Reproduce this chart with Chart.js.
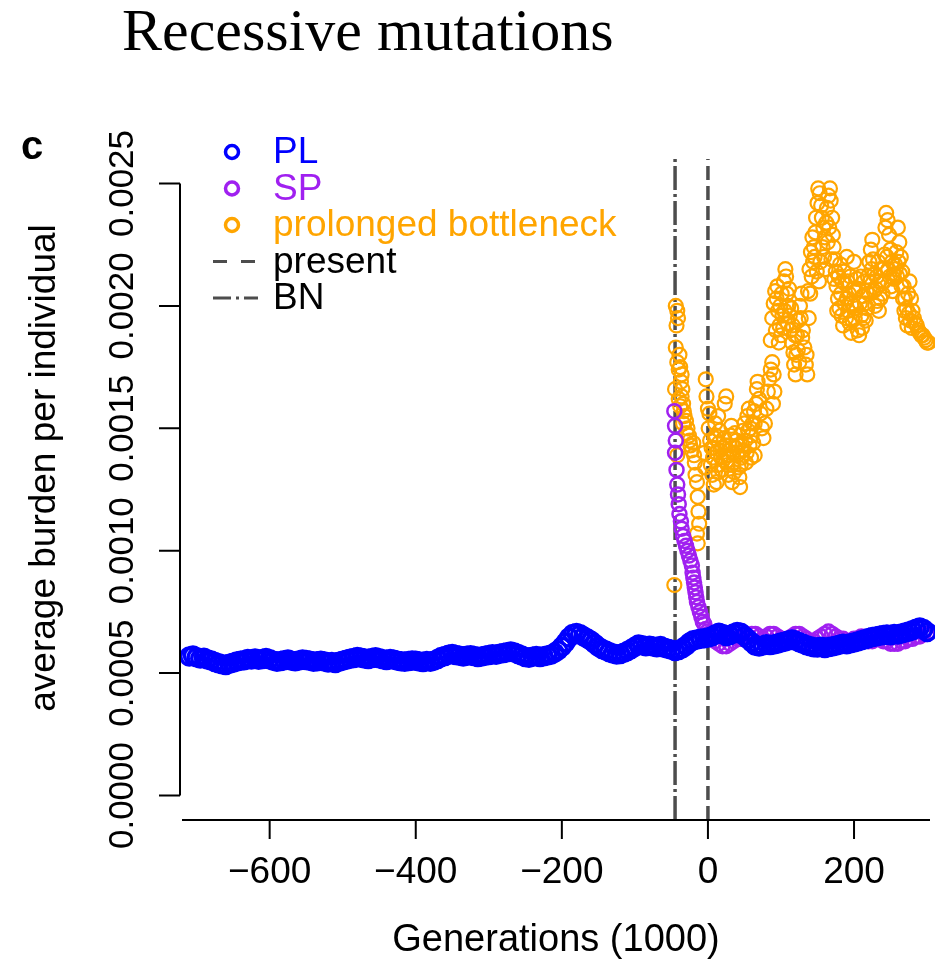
<!DOCTYPE html>
<html>
<head>
<meta charset="utf-8">
<title>Recessive mutations</title>
<script src="https://cdn.jsdelivr.net/npm/chart.js@4.4.1/dist/chart.umd.min.js"></script>
<style>
  html, body { margin: 0; padding: 0; background: #fff; }
  canvas { display: block; }
</style>
</head>
<body>
<canvas id="myChart" width="935" height="963"></canvas>
<script>
// values: generations (1000), average burden per individual

const xTicks = [-600, -400, -200, 0, 200]
const yTicks = [0, 0.0005, 0.0010, 0.0015, 0.0020, 0.0025]

const presentGen = 0
const bnGen = -45

// PL: one value every 5 (x1000) generations, from -710 to 300
const plStart = -710, plStep = 5
const plBurden = [
    0.000568, 0.000572, 0.000565, 0.000560, 0.000563, 0.000556, 0.000552, 0.000545, 0.000540, 0.000536,
    0.000533, 0.000538, 0.000542, 0.000547, 0.000550, 0.000553, 0.000558, 0.000556, 0.000560, 0.000555,
    0.000558, 0.000562, 0.000557, 0.000550, 0.000546, 0.000549, 0.000553, 0.000556, 0.000551, 0.000548,
    0.000552, 0.000556, 0.000554, 0.000550, 0.000546, 0.000548, 0.000550, 0.000547, 0.000543, 0.000545,
    0.000541, 0.000546, 0.000551, 0.000555, 0.000559, 0.000562, 0.000566, 0.000563, 0.000560, 0.000558,
    0.000562, 0.000565, 0.000561, 0.000557, 0.000554, 0.000558, 0.000555, 0.000551, 0.000548, 0.000546,
    0.000549, 0.000552, 0.000550, 0.000547, 0.000545, 0.000549, 0.000546, 0.000551, 0.000558, 0.000566,
    0.000570, 0.000575, 0.000578, 0.000574, 0.000571, 0.000568, 0.000571, 0.000573, 0.000570, 0.000566,
    0.000568, 0.000571, 0.000574, 0.000577, 0.000575, 0.000579, 0.000582, 0.000585, 0.000588, 0.000584,
    0.000578, 0.000572, 0.000566, 0.000563, 0.000567, 0.000570, 0.000566, 0.000569, 0.000572, 0.000575,
    0.000583, 0.000593, 0.000608, 0.000625, 0.000645, 0.000660, 0.000664, 0.000659, 0.000650, 0.000641,
    0.000632, 0.000620, 0.000608, 0.000598, 0.000592, 0.000585, 0.000580, 0.000576, 0.000578, 0.000583,
    0.000590, 0.000598, 0.000608, 0.000617, 0.000614, 0.000610, 0.000612, 0.000609, 0.000606, 0.000611,
    0.000604, 0.000600, 0.000595, 0.000590, 0.000594, 0.000602, 0.000612, 0.000625, 0.000634, 0.000637,
    0.000640, 0.000642, 0.000645, 0.000650, 0.000658, 0.000665, 0.000660, 0.000652, 0.000656, 0.000662,
    0.000668, 0.000665, 0.000652, 0.000638, 0.000625, 0.000612, 0.000609, 0.000613, 0.000618, 0.000615,
    0.000617, 0.000620, 0.000625, 0.000628, 0.000633, 0.000637, 0.000632, 0.000626, 0.000620, 0.000614,
    0.000610, 0.000606, 0.000605, 0.000608, 0.000603, 0.000607, 0.000609, 0.000612, 0.000616, 0.000620,
    0.000618, 0.000622, 0.000625, 0.000629, 0.000634, 0.000638, 0.000643, 0.000648, 0.000650, 0.000653,
    0.000656, 0.000658, 0.000655, 0.000660, 0.000658, 0.000662, 0.000666, 0.000670, 0.000675, 0.000681,
    0.000686, 0.000680, 0.000668
]

// SP
const spGen = [
    -46, -45, -44, -45, -43, -42, -41, -40, -39, -37, -36, -34, -32, -30, -28, -26, -24,
    -22, -21, -20, -19, -18, -17, -16, -15, -13, -11, -9, -7, -5, -3, -1, 1,
    5, 10, 15, 20, 25, 30, 35, 40, 45, 50, 55, 60, 65, 70, 75, 80, 85, 90, 95, 100,
    105, 110, 115, 120, 125, 130, 135, 140, 145, 150, 155, 160, 165, 170, 175, 180, 185, 190, 195, 200,
    205, 210, 215, 220, 225, 230, 235, 240, 245, 250, 255, 260, 265, 270, 275, 280, 285, 290, 295, 300
]
const spBurden = [
    0.00157, 0.00151, 0.00145, 0.00140, 0.00133, 0.00127, 0.00123, 0.00119, 0.00115, 0.00112, 0.00109, 0.00106, 0.00104, 0.00102, 0.00100, 0.00098, 0.00096,
    0.00094, 0.00091, 0.00089, 0.00087, 0.00085, 0.00083, 0.00081, 0.00079, 0.00077, 0.00075, 0.00073, 0.00071, 0.00070, 0.00068, 0.00067, 0.00066,
    0.00064, 0.00063, 0.00062, 0.00061, 0.00061, 0.00062, 0.00063, 0.00064, 0.00064, 0.00065, 0.00065, 0.00066, 0.00066, 0.00065, 0.00064, 0.00065, 0.00066, 0.00066, 0.00065, 0.00064,
    0.00063, 0.00064, 0.00065, 0.00066, 0.00066, 0.00065, 0.00064, 0.00063, 0.00063, 0.00064, 0.00065, 0.00066, 0.00067, 0.00066, 0.00065, 0.00064, 0.00064, 0.00063, 0.00063, 0.00064,
    0.00064, 0.00065, 0.00064, 0.00063, 0.00063, 0.00064, 0.00064, 0.00063, 0.00063, 0.00062, 0.00062, 0.00062, 0.00063, 0.00063, 0.00064, 0.00064, 0.00065, 0.00065, 0.00066, 0.00066
]

// prolonged bottleneck
const pbGen = [
    -46, -44, -42, -43, -44, -42, -38, -36, -37, -45, -40, -35, -34, -38, -32, -34, -30, -28, -26, -25, -42, -22, -20, -18, -15, -14, -13, -15, -14,
    -3, -2, 0, 2, 1, 3, -5, -4, 5, 7, 6, 9, 10, 12, 13, 12, 15, 16, 18, 19, 20, 22, 23, 25, 26, 27, 28,
    30, 31, 32, 34, 35, 36, 38, 39, 40, 42, 43, 44, 46, 47, 48, 50, 51, 53, 54, 56, 58, 60, 62, 64,
    64, 66, 67, 68, 70, 72, 74, 76, 78, 80, 82, 84, 86, 88, 90, 91, 89,
    86, 88, 90, 92, 94, 96, 98, 100, 102, 104, 106, 107, 108, 110, 112, 113, 115, 117, 118, 120, 121, 122, 124, 126, 128,
    130, 132, 134, 136, 135, 138, 140, 142, 144, 145, 147, 148, 150, 151, 153, 155, 156, 158, 160, 162, 163, 165, 167, 168,
    170, 171, 172, 174, 175, 146, 149, 152, 154, 157,
    176, 178, 180, 182, 184, 186, 188, 190, 192, 194, 196, 198, 200, 202, 204, 206, 208, 210, 211, 213,
    215, 217, 219, 221, 223, 225, 226, 228, 230, 232, 234, 236, 238, 240, 242, 243, 244, 246, 248, 205, 207, 185, 200, 190,
    250, 252, 254, 256, 258, 260, 262, 264, 266, 268, 270, 272, 274, 276, 278, 280, 282, 284, 286, 288, 290, 292, 294, 296, 298, 300, 302,
    -41, -39, -40, -36, -33, -29, -24, -19, -17, -12,
    4, 8, 11, 14, 17, 21, 24, 29, 33, 37, 41, 45, 49, 52, 55, 57, 59, 61, 63, 14, 8, 33,
    93, 95, 97, 99, 101, 103, 105, 109, 111, 114, 116, 119, 123, 125, 127, 129,
    137, 139, 141, 143, 159, 161, 164, 166, 169, 173,
    177, 179, 181, 183, 187, 189, 191, 193, 195, 197, 199, 201, 203, 209, 212, 214, 216, 218, 220, 222,
    224, 227, 229, 231, 233, 235, 237, 239, 241, 245, 247,
    249, 251, 253, 255, 257, 259, 261, 263, 265, 267, 269, 271, 273, 275, 277, 279
]
const pbBurden = [
    0.00086, 0.00200, 0.00198, 0.00192, 0.00183, 0.00177, 0.00175, 0.00172, 0.00169, 0.00166, 0.00162, 0.00166, 0.00160, 0.00159, 0.00155, 0.00152, 0.00153, 0.00150, 0.00147, 0.00145, 0.00139, 0.00141, 0.00144, 0.00136, 0.00128, 0.00122, 0.00116, 0.00107, 0.00103,
    0.00170, 0.00163, 0.00158, 0.00156, 0.00150, 0.00145, 0.00140, 0.00134, 0.00142, 0.00138, 0.00131, 0.00146, 0.00152, 0.00140, 0.00135, 0.00128, 0.00144, 0.00149, 0.00138, 0.00133, 0.00142, 0.00146, 0.00160, 0.00163, 0.00139, 0.00135, 0.00131,
    0.00143, 0.00147, 0.00151, 0.00140, 0.00136, 0.00132, 0.00142, 0.00145, 0.00139, 0.00134, 0.00130, 0.00126, 0.00138, 0.00143, 0.00149, 0.00152, 0.00145, 0.00140, 0.00155, 0.00158, 0.00150, 0.00147, 0.00144, 0.00139,
    0.00152, 0.00160, 0.00166, 0.00169, 0.00162, 0.00156, 0.00150, 0.00146, 0.00152, 0.00158, 0.00165, 0.00170, 0.00174, 0.00177, 0.00172, 0.00165, 0.00160,
    0.00186, 0.00195, 0.00201, 0.00206, 0.00203, 0.00198, 0.00192, 0.00188, 0.00196, 0.00210, 0.00215, 0.00212, 0.00205, 0.00200, 0.00196, 0.00190, 0.00185, 0.00181, 0.00176, 0.00172, 0.00180, 0.00188, 0.00194, 0.00200, 0.00205,
    0.00190, 0.00183, 0.00176, 0.00172, 0.00180, 0.00195, 0.00205, 0.00212, 0.00218, 0.00224, 0.00230, 0.00236, 0.00242, 0.00248, 0.00246, 0.00241, 0.00236, 0.00232, 0.00228, 0.00234, 0.00240, 0.00245, 0.00248, 0.00243,
    0.00236, 0.00229, 0.00224, 0.00219, 0.00214, 0.00220, 0.00214, 0.00210, 0.00218, 0.00224,
    0.00208, 0.00203, 0.00199, 0.00205, 0.00210, 0.00214, 0.00209, 0.00203, 0.00198, 0.00193, 0.00189, 0.00194, 0.00200, 0.00206, 0.00211, 0.00207, 0.00201, 0.00196, 0.00191, 0.00195,
    0.00201, 0.00206, 0.00212, 0.00218, 0.00223, 0.00227, 0.00219, 0.00213, 0.00207, 0.00202, 0.00198, 0.00203, 0.00209, 0.00215, 0.00221, 0.00232, 0.00238, 0.00235, 0.00229, 0.00190, 0.00188, 0.00192, 0.00218, 0.00220,
    0.00223, 0.00218, 0.00213, 0.00217, 0.00222, 0.00232, 0.00226, 0.00220, 0.00214, 0.00208, 0.00203, 0.00199, 0.00205, 0.00210, 0.00203, 0.00198, 0.00195, 0.00193, 0.00192, 0.00190, 0.00189, 0.00188, 0.00188, 0.00187, 0.00186, 0.00185, 0.00185,
    0.00195, 0.00180, 0.00174, 0.00163, 0.00157, 0.00148, 0.00143, 0.00139, 0.00131, 0.00111,
    0.00135, 0.00142, 0.00147, 0.00132, 0.00141, 0.00137, 0.00143, 0.00139, 0.00135, 0.00148, 0.00143, 0.00135, 0.00141, 0.00136, 0.00149, 0.00143, 0.00138, 0.00152, 0.00157, 0.00155, 0.00127, 0.00128,
    0.00190, 0.00208, 0.00185, 0.00200, 0.00205, 0.00191, 0.00198, 0.00193, 0.00207, 0.00199, 0.00192, 0.00188, 0.00182, 0.00177, 0.00195, 0.00187,
    0.00206, 0.00215, 0.00222, 0.00228, 0.00220, 0.00215, 0.00226, 0.00232, 0.00219, 0.00211,
    0.00198, 0.00212, 0.00217, 0.00196, 0.00201, 0.00195, 0.00210, 0.00205, 0.00212, 0.00201, 0.00207, 0.00195, 0.00199, 0.00212, 0.00204, 0.00210, 0.00194, 0.00199, 0.00205, 0.00210,
    0.00215, 0.00206, 0.00200, 0.00212, 0.00218, 0.00210, 0.00215, 0.00205, 0.00210, 0.00220, 0.00215,
    0.00212, 0.00208, 0.00206, 0.00211, 0.00215, 0.00212, 0.00218, 0.00213, 0.00208, 0.00203, 0.00198, 0.00195, 0.00192, 0.00197, 0.00194, 0.00191
]

const blue = '#0000ff', purple = '#a020f0', orange = '#ffa500', gray = '#4d4d4d'
const sans = '"Liberation Sans", Arial, sans-serif'

const yMin = -0.0001, yMax = 0.0026

function pts(xs, ys) {
    return ys.map((v, i) => ({ x: xs[i], y: v }))
}
const plGen = plBurden.map((v, i) => plStart + i * plStep)

function circles(label, color, data, r, w) {
    return {
        label: label, data: data, borderColor: color, pointBorderColor: color,
        pointBackgroundColor: 'rgba(0,0,0,0)', pointRadius: r, pointBorderWidth: w,
        pointStyle: 'circle', clip: false
    }
}
function vline(label, gen, dash) {
    return {
        type: 'line', label: label, data: [{ x: gen, y: yMin }, { x: gen, y: yMax }],
        borderColor: gray, borderWidth: 3.5, borderDash: dash, pointRadius: 0
    }
}

// R style axes, labels and legend
const rStyle = {
    id: 'rStyle',
    afterDraw(chart) {
        const { ctx, chartArea: a, scales: { x, y } } = chart
        ctx.save()
        ctx.strokeStyle = '#000'
        ctx.fillStyle = '#000'
        ctx.lineWidth = 2
        ctx.setLineDash([])

        // x axis
        ctx.beginPath()
        ctx.moveTo(a.left, a.bottom)
        ctx.lineTo(a.right, a.bottom)
        xTicks.forEach(t => {
            const px = x.getPixelForValue(t)
            ctx.moveTo(px, a.bottom)
            ctx.lineTo(px, a.bottom + 19)
        })
        ctx.stroke()
        ctx.font = '37px ' + sans
        ctx.textAlign = 'center'
        ctx.textBaseline = 'alphabetic'
        xTicks.forEach(t => {
            ctx.fillText(t < 0 ? '\u2212' + Math.abs(t) : String(t), x.getPixelForValue(t), a.bottom + 63)
        })

        // y axis
        const yx = a.left - 2
        ctx.beginPath()
        ctx.moveTo(yx, y.getPixelForValue(yTicks[0]))
        ctx.lineTo(yx, y.getPixelForValue(yTicks[yTicks.length - 1]))
        yTicks.forEach(t => {
            const py = y.getPixelForValue(t)
            ctx.moveTo(yx, py)
            ctx.lineTo(yx - 21, py)
        })
        ctx.stroke()
        ctx.font = '35px ' + sans
        yTicks.forEach(t => {
            ctx.save()
            ctx.translate(133, y.getPixelForValue(t))
            ctx.rotate(-Math.PI / 2)
            ctx.fillText(t.toFixed(4), 0, 0)
            ctx.restore()
        })

        // axis titles
        ctx.font = '38px ' + sans
        ctx.fillText('Generations (1000)', (a.left + a.right) / 2, 951)
        ctx.font = '37px ' + sans
        ctx.save()
        ctx.translate(55, 468)
        ctx.rotate(-Math.PI / 2)
        ctx.fillText('average burden per individual', 0, 0)
        ctx.restore()

        // title and panel letter
        ctx.textAlign = 'left'
        ctx.font = '60px "Liberation Serif", serif'
        ctx.fillText('Recessive mutations', 122, 50)
        ctx.font = 'bold 40px ' + sans
        ctx.fillText('c', 21, 159)

        // legend
        ctx.textBaseline = 'middle'
        ctx.font = '37px ' + sans
        chart.data.datasets.forEach((ds, i) => {
            const ly = 152 + i * 36.5
            if (ds.type === 'line') {
                ctx.strokeStyle = gray
                ctx.lineWidth = 3
                ctx.setLineDash(ds.label === 'BN' ? [18, 5, 3, 5] : [14, 14])
                ctx.beginPath()
                ctx.moveTo(213, ly)
                ctx.lineTo(258, ly)
                ctx.stroke()
                ctx.setLineDash([])
                ctx.fillStyle = '#000'
            } else {
                ctx.strokeStyle = ds.borderColor
                ctx.lineWidth = 3.5
                ctx.beginPath()
                ctx.arc(232, ly, 6.5, 0, Math.PI * 2)
                ctx.stroke()
                ctx.fillStyle = ds.borderColor
            }
            ctx.fillText(ds.label, 273, ly + 1)
        })
        ctx.restore()
    }
}

const ctx = document.getElementById('myChart').getContext('2d')
const myChart = new Chart(ctx, {
    type: 'scatter',
    data: {
        datasets: [
            circles('PL', blue, pts(plGen, plBurden), 8.5, 3.5),
            circles('SP', purple, pts(spGen, spBurden), 7, 2.5),
            circles('prolonged bottleneck', orange, pts(pbGen, pbBurden), 7, 2.2),
            vline('present', presentGen, [14, 6]),
            vline('BN', bnGen, [24, 4, 3, 4])
        ]
    },
    options: {
        responsive: false,
        animation: false,
        events: [],
        layout: { autoPadding: false, padding: { left: 182, right: 5, top: 159, bottom: 143 } },
        scales: {
            x: { type: 'linear', min: -720, max: 304, display: false },
            y: { type: 'linear', min: yMin, max: yMax, display: false }
        },
        plugins: {
            legend: { display: false },
            tooltip: { enabled: false }
        }
    },
    plugins: [rStyle]
})
</script>
</body>
</html>
